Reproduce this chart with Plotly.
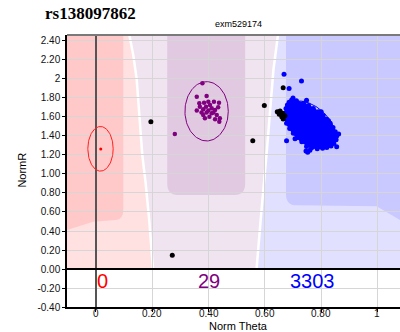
import numpy as np
import plotly.graph_objects as go

# ---- genotype cluster data (Norm Theta, NormR) ----
red_x = [0.017]
red_y = [1.263]

purple_x = [0.378, 0.358, 0.393, 0.367, 0.405, 0.437, 0.358, 0.381, 0.399, 0.417,
            0.434, 0.381, 0.403, 0.423, 0.440, 0.438, 0.387, 0.411, 0.369, 0.391,
            0.423, 0.393, 0.375, 0.411, 0.429, 0.399, 0.384, 0.419, 0.280]
purple_y = [1.955, 1.814, 1.821, 1.744, 1.726, 1.751, 1.667, 1.681, 1.667, 1.646,
            1.702, 1.621, 1.603, 1.576, 1.586, 1.551, 1.586, 1.639, 1.709, 1.709,
            1.674, 1.646, 1.646, 1.691, 1.621, 1.761, 1.751, 1.761, 1.420]

# dense core of the BB cluster (outline of the solid blob)
blue_core_x = [0.695, 0.737, 0.772, 0.807, 0.831, 0.849, 0.853, 0.837, 0.807, 0.766,
               0.731, 0.701, 0.677, 0.671, 0.680]
blue_core_y = [1.779, 1.744, 1.691, 1.614, 1.533, 1.445, 1.375, 1.298, 1.270, 1.277,
               1.340, 1.428, 1.533, 1.639, 1.726]

blue_x = [0.695, 0.712, 0.737, 0.755, 0.772, 0.790, 0.807, 0.820, 0.832, 0.842,
          0.850, 0.855, 0.853, 0.845, 0.835, 0.820, 0.805, 0.786, 0.766, 0.748,
          0.731, 0.716, 0.701, 0.688, 0.677, 0.672, 0.671, 0.675, 0.680, 0.686,
          0.668, 0.730, 0.686, 0.748, 0.800, 0.677, 0.752, 0.746, 0.849, 0.855,
          0.700, 0.720, 0.862, 0.826, 0.760, 0.707]
blue_y = [1.780, 1.770, 1.745, 1.720, 1.690, 1.655, 1.615, 1.575, 1.535, 1.490,
          1.445, 1.400, 1.360, 1.320, 1.295, 1.280, 1.270, 1.265, 1.275, 1.290,
          1.340, 1.385, 1.428, 1.480, 1.533, 1.585, 1.640, 1.690, 1.726, 1.755,
          2.050, 1.980, 1.900, 1.775, 1.656, 1.350, 1.230, 1.242, 1.380, 1.287,
          1.800, 1.720, 1.420, 1.560, 1.250, 1.370]

black_x = [0.195, 0.598, 0.557, 0.665, 0.271, 0.644, 0.654, 0.663, 0.660, 0.665,
           0.651, 0.671]
black_y = [1.550, 1.720, 1.350, 1.908, 0.144, 1.656, 1.663, 1.639, 1.603, 1.579,
           1.628, 1.614]

# cluster ellipses: centre x, centre y, half-width, half-height
red_ell = (0.016, 1.265, 0.045, 0.235)
purple_ell = (0.393, 1.660, 0.077, 0.312)
# BB ellipse: centre and the two half-axis vectors
blue_ell_c = (0.762, 1.520)
blue_ell_u = (0.078, -0.205)
blue_ell_v = (-0.042, -0.140)

counts = ["0", "29", "3303"]
count_x = [0.024, 0.400, 0.770]
count_colors = ["#FF0000", "#800080", "#0000FF"]

x_ticks = [0, 0.2, 0.4, 0.6, 0.8, 1.0]
x_ticktext = ["0", "0.20", "0.40", "0.60", "0.80", "1"]
y_ticks = [2.4, 2.2, 2.0, 1.8, 1.6, 1.4, 1.2, 1.0, 0.8, 0.6, 0.4, 0.2, 0.0, -0.2, -0.4]
y_ticktext = ["2.40", "2.20", "2", "1.80", "1.60", "1.40", "1.20", "1.00", "0.80",
              "0.60", "0.40", "0.20", "0.00", "-0.20", "-0.40"]

# ---- call-region boundaries ----
X_L, X_R, Y_TOP = -0.103, 1.080, 2.463
pink_edge_x = [0.114, 0.128, 0.140, 0.150, 0.160, 0.172, 0.185, 0.198]
pink_edge_y = [2.463, 2.250, 2.000, 1.600, 1.200, 0.900, 0.500, 0.000]
blue_edge_x = [0.642, 0.626, 0.615, 0.604, 0.592, 0.580, 0.566]
blue_edge_y = [2.463, 2.100, 1.700, 1.300, 0.900, 0.500, 0.000]
GAP = 0.009


def poly(xs, ys):
    s = "M " + " L ".join(f"{x},{y}" for x, y in zip(xs, ys))
    return s + " Z"


shapes = []


def region(path, color):
    shapes.append(dict(type="path", path=path, xref="x", yref="y",
                       fillcolor=color, line=dict(width=0), layer="below"))


# light pink (AA) area
region(poly([X_L] + pink_edge_x + [X_L], [Y_TOP] + pink_edge_y + [0.0]), "#FFE1E1")
# lavender (AB) area
lav_l = [x + GAP for x in pink_edge_x]
region(poly(lav_l + blue_edge_x[::-1], pink_edge_y + blue_edge_y[::-1]), "#F0E4F0")
# light blue (BB) area
blu_l = [x + GAP for x in blue_edge_x]
region(poly(blu_l + [X_R, X_R], blue_edge_y + [0.0, Y_TOP]), "#E1E1FF")
# darker core areas
region(f"M {X_L},{Y_TOP} L 0.097,{Y_TOP} L 0.097,0.62 Q 0.097,0.52 0.070,0.515 "
       f"L -0.010,0.498 L {X_L},0.410 Z", "#FFC9C9")
region(f"M 0.253,{Y_TOP} L 0.253,0.90 Q 0.253,0.78 0.290,0.78 L 0.493,0.78 "
       f"Q 0.530,0.78 0.530,0.90 L 0.530,{Y_TOP} Z", "#E1C9E1")
region(f"M 0.675,{Y_TOP} L 0.675,0.79 Q 0.675,0.67 0.712,0.67 L 0.997,0.660 "
       f"L {X_R},0.516 L {X_R},{Y_TOP} Z", "#C9C9FF")

# top frame line
shapes.append(dict(type="line", xref="paper", yref="paper", x0=0, x1=1, y0=1, y1=1,
                   line=dict(color="#7A7A7A", width=2), layer="above"))

fig = go.Figure()

t = np.linspace(0, 2 * np.pi, 120)


def ellipse(cx, cy, rx, ry, color):
    fig.add_trace(go.Scatter(x=cx + rx * np.cos(t), y=cy + ry * np.sin(t), mode="lines",
                             line=dict(color=color, width=1), hoverinfo="skip"))


ellipse(*red_ell, "#FF2020")
ellipse(*purple_ell, "#800080")
bx = blue_ell_c[0] + blue_ell_u[0] * np.cos(t) + blue_ell_v[0] * np.sin(t)
by = blue_ell_c[1] + blue_ell_u[1] * np.cos(t) + blue_ell_v[1] * np.sin(t)
fig.add_trace(go.Scatter(x=bx, y=by, mode="lines", line=dict(color="#0000FF", width=1),
                         hoverinfo="skip"))

fig.add_trace(go.Scatter(x=blue_core_x, y=blue_core_y, mode="lines", fill="toself",
                         fillcolor="#0000FF", line=dict(color="#0000FF", width=2)))
fig.add_trace(go.Scatter(x=blue_x, y=blue_y, mode="markers",
                         marker=dict(color="#0000FF", size=5, line=dict(width=0))))
fig.add_trace(go.Scatter(x=purple_x, y=purple_y, mode="markers",
                         marker=dict(color="#800080", size=4.5, line=dict(width=0))))
fig.add_trace(go.Scatter(x=red_x, y=red_y, mode="markers",
                         marker=dict(color="#FF0000", size=3, line=dict(width=0))))
fig.add_trace(go.Scatter(x=black_x, y=black_y, mode="markers",
                         marker=dict(color="#000000", size=5, line=dict(width=0))))

annotations = []
for txt, cx, col in zip(counts, count_x, count_colors):
    annotations.append(dict(x=cx, y=-0.123, xref="x", yref="y", text=txt, showarrow=False,
                            font=dict(family="Liberation Sans", size=20, color=col),
                            xanchor="center", yanchor="middle"))

# x tick labels sit tight under the axis
for tv, tt in zip(x_ticks, x_ticktext):
    annotations.append(dict(x=tv, y=-0.024, xref="x", yref="paper", text=tt,
                            showarrow=False, xanchor="center", yanchor="middle",
                            borderpad=0,
                            font=dict(family="Liberation Sans", size=10, color="#111")))

annotations += [
    dict(x=-0.072, y=1.08, xref="paper", yref="paper", text="<b>rs138097862</b>",
         showarrow=False, xanchor="left", yanchor="middle",
         font=dict(family="Liberation Serif", size=17, color="#000")),
    dict(x=0.514, y=1.039, xref="paper", yref="paper", text="exm529174",
         showarrow=False, xanchor="center", yanchor="middle",
         font=dict(family="Liberation Sans", size=9, color="#000")),
    dict(x=-0.136, y=0.504, xref="paper", yref="paper", text="NormR", textangle=-90,
         showarrow=False, xanchor="center", yanchor="middle",
         font=dict(family="Liberation Sans", size=11, color="#000")),
    dict(x=0.514, y=-0.070, xref="paper", yref="paper", text="Norm Theta",
         showarrow=False, xanchor="center", yanchor="middle", borderpad=0,
         font=dict(family="Liberation Sans", size=11, color="#000")),
]

axis_common = dict(showgrid=True, gridcolor="#D6D6D6", gridwidth=1, ticks="outside",
                   ticklen=3, tickcolor="#000", showline=True, linecolor="#000",
                   linewidth=1.5, tickfont=dict(family="Liberation Sans", size=10,
                                                color="#111"), fixedrange=True)

fig.update_layout(
    width=400, height=332,
    margin=dict(l=67, r=0, t=35, b=25),
    paper_bgcolor="white", plot_bgcolor="white",
    showlegend=False,
    shapes=shapes,
    annotations=annotations,
    xaxis=dict(range=[X_L, X_R], tickvals=x_ticks, ticktext=x_ticktext,
               showticklabels=False,
               zeroline=True, zerolinecolor="#555555", zerolinewidth=1.5, **axis_common),
    yaxis=dict(range=[-0.40, Y_TOP], tickvals=y_ticks, ticktext=y_ticktext,
               zeroline=True, zerolinecolor="#000000", zerolinewidth=1.5, **axis_common),
)

fig.write_html("out.html")
